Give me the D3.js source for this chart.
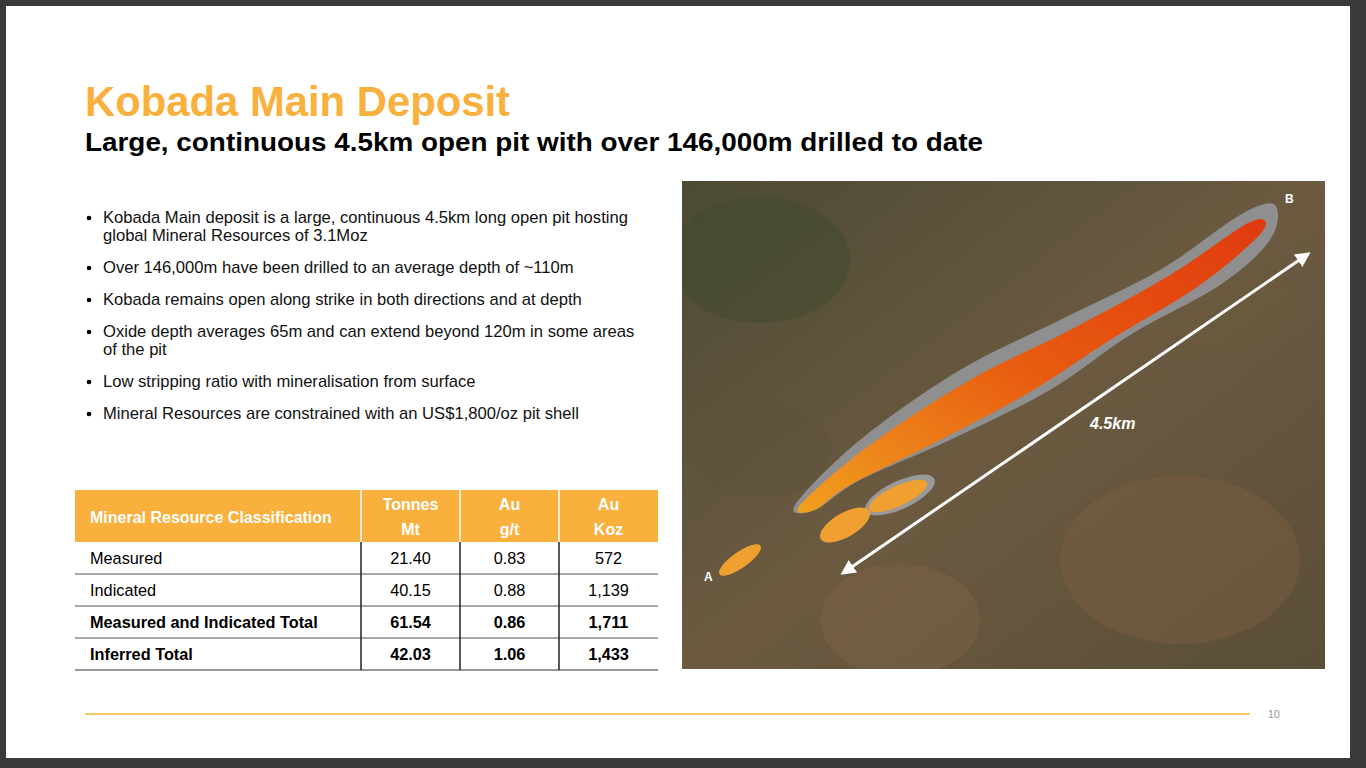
<!DOCTYPE html>
<html><head><meta charset="utf-8">
<script src="https://cdn.jsdelivr.net/npm/d3@7"></script>
<style>body{margin:0;background:#3a3a3a;font-family:Arial,"Liberation Sans",sans-serif}</style>
</head><body><svg id="s" width="1366" height="768"></svg>
<script>
// table data
const headers = [['Mineral Resource Classification'], ['Tonnes', 'Mt'], ['Au', 'g/t'], ['Au', 'Koz']];
const classes = ['Measured', 'Indicated', 'Measured and Indicated Total', 'Inferred Total'];
const tonnes = ['21.40', '40.15', '61.54', '42.03'];
const grade = ['0.83', '0.88', '0.86', '1.06'];
const ounces = ['572', '1,139', '1,711', '1,433'];
const boldRows = [false, false, true, true];
const bullets = [
  ['Kobada Main deposit is a large, continuous 4.5km long open pit hosting', 'global Mineral Resources of 3.1Moz'],
  ['Over 146,000m have been drilled to an average depth of ~110m'],
  ['Kobada remains open along strike in both directions and at depth'],
  ['Oxide depth averages 65m and can extend beyond 120m in some areas', 'of the pit'],
  ['Low stripping ratio with mineralisation from surface'],
  ['Mineral Resources are constrained with an US$1,800/oz pit shell']
];

const svg = d3.select('#s');
const orange = '#f9b03d';
svg.append('rect').attr('x', 6).attr('y', 6).attr('width', 1344).attr('height', 752).attr('fill', '#fff');

svg.append('text').attr('x', 85).attr('y', 116).attr('font-size', 41.8).attr('font-weight', 'bold')
  .attr('fill', orange).text('Kobada Main Deposit');
svg.append('text').attr('x', 85).attr('y', 151).attr('font-size', 25).attr('font-weight', 'bold')
  .attr('fill', '#000').attr('textLength', 898).attr('lengthAdjust', 'spacingAndGlyphs')
  .text('Large, continuous 4.5km open pit with over 146,000m drilled to date');

// bullets
let by = 223;
bullets.forEach((b) => {
  svg.append('circle').attr('cx', 89).attr('cy', by - 5).attr('r', 2.3).attr('fill', '#000');
  b.forEach((line, i) => {
    svg.append('text').attr('x', 103).attr('y', by + i * 18).attr('font-size', 16.6).attr('fill', '#111').text(line);
  });
  by += b.length * 18 + 14;
});

// table
const colEdges = [75, 361, 460, 559, 658];
const rowY = d3.scaleBand().domain(d3.range(classes.length)).range([542, 670]);
const g = svg.append('g');
g.append('rect').attr('x', 75).attr('y', 490).attr('width', 583).attr('height', 52).attr('fill', orange);
headers.forEach((h, c) => {
  if (c > 0) g.append('line').attr('x1', colEdges[c]).attr('x2', colEdges[c]).attr('y1', 490).attr('y2', 542)
    .attr('stroke', '#fff').attr('stroke-width', 1.5);
  h.forEach((t, i) => {
    const y = h.length === 1 ? 523 : 510 + i * 25;
    g.append('text').attr('x', c === 0 ? 90 : (colEdges[c] + colEdges[c + 1]) / 2).attr('y', y)
      .attr('text-anchor', c === 0 ? 'start' : 'middle').attr('font-size', 16).attr('font-weight', 'bold')
      .attr('fill', '#fff').text(t);
  });
});
classes.forEach((cl, r) => {
  const y0 = rowY(r), bw = rowY.bandwidth();
  const vals = [cl, tonnes[r], grade[r], ounces[r]];
  vals.forEach((v, c) => {
    g.append('text').attr('x', c === 0 ? 90 : (colEdges[c] + colEdges[c + 1]) / 2).attr('y', y0 + bw / 2 + 6)
      .attr('text-anchor', c === 0 ? 'start' : 'middle').attr('font-size', 16.3)
      .attr('font-weight', boldRows[r] ? 'bold' : 'normal').attr('fill', '#000').text(v);
  });
  g.append('line').attr('x1', 75).attr('x2', 658).attr('y1', y0 + bw).attr('y2', y0 + bw)
    .attr('stroke', r === classes.length - 1 ? '#333' : '#555').attr('stroke-width', 1.2);
});
colEdges.slice(1, 4).forEach((x) => {
  g.append('line').attr('x1', x).attr('x2', x).attr('y1', 542).attr('y2', 670).attr('stroke', '#222').attr('stroke-width', 1.5);
});

// aerial image approximation
const defs = svg.append('defs');
defs.append('clipPath').attr('id', 'clip').append('rect').attr('x', 682).attr('y', 181).attr('width', 643).attr('height', 488);
const img = svg.append('g').attr('clip-path', 'url(#clip)');
const bg = defs.append('linearGradient').attr('id', 'ground').attr('x1', '0%').attr('y1', '0%').attr('x2', '100%').attr('y2', '100%');
bg.append('stop').attr('offset', '0%').attr('stop-color', '#4c4a35');
bg.append('stop').attr('offset', '50%').attr('stop-color', '#6b5a40');
bg.append('stop').attr('offset', '100%').attr('stop-color', '#5a4e38');
const ore = defs.append('linearGradient').attr('id', 'ore').attr('x1', '0%').attr('y1', '100%').attr('x2', '100%').attr('y2', '0%');
ore.append('stop').attr('offset', '0%').attr('stop-color', '#f0a020');
ore.append('stop').attr('offset', '50%').attr('stop-color', '#e85a10');
ore.append('stop').attr('offset', '100%').attr('stop-color', '#e03a10');
img.append('rect').attr('x', 682).attr('y', 181).attr('width', 643).attr('height', 488).attr('fill', 'url(#ground)');
[[760, 260, 90, '#3f4a2c'], [1180, 560, 120, '#7a5d42'], [900, 620, 80, '#7d6146'], [1220, 300, 70, '#6a5a3c'], [760, 450, 70, '#5e5338']]
  .forEach(([cx, cy, r, c]) => img.append('ellipse').attr('cx', cx).attr('cy', cy).attr('rx', r).attr('ry', r * 0.7)
    .attr('fill', c).attr('opacity', 0.5));
const shell = [[795, 505], [860, 440], [960, 370], [1060, 320], [1160, 270], [1240, 215], [1275, 205], [1270, 240], [1220, 285], [1130, 335], [1050, 390], [950, 440], [860, 480], [815, 510]];
img.append('path').attr('d', d3.line().curve(d3.curveCardinalClosed)(shell)).attr('fill', '#8f8f8f');
const body = [[800, 505], [870, 445], [970, 380], [1070, 330], [1170, 275], [1250, 222], [1262, 232], [1200, 285], [1110, 340], [1030, 392], [940, 440], [850, 485], [815, 510]];
img.append('path').attr('d', d3.line().curve(d3.curveCardinalClosed)(body)).attr('fill', 'url(#ore)');
img.append('ellipse').attr('cx', 900).attr('cy', 495).attr('rx', 38).attr('ry', 14).attr('transform', 'rotate(-25 900 495)').attr('fill', '#999');
img.append('ellipse').attr('cx', 898).attr('cy', 496).attr('rx', 32).attr('ry', 10).attr('transform', 'rotate(-25 898 496)').attr('fill', '#f0a030');
img.append('ellipse').attr('cx', 845).attr('cy', 525).attr('rx', 28).attr('ry', 12).attr('transform', 'rotate(-30 845 525)').attr('fill', '#f0a030');
img.append('ellipse').attr('cx', 740).attr('cy', 560).attr('rx', 25).attr('ry', 8).attr('transform', 'rotate(-35 740 560)').attr('fill', '#f0a030');
// arrow
const arrow = defs.append('marker').attr('id', 'ah').attr('viewBox', '0 0 10 10').attr('refX', 8).attr('refY', 5)
  .attr('markerWidth', 5).attr('markerHeight', 5).attr('orient', 'auto-start-reverse');
arrow.append('path').attr('d', 'M0,0L10,5L0,10z').attr('fill', '#fff');
img.append('line').attr('x1', 843).attr('y1', 573).attr('x2', 1308).attr('y2', 254).attr('stroke', '#fff').attr('stroke-width', 3)
  .attr('marker-start', 'url(#ah)').attr('marker-end', 'url(#ah)');
img.append('text').attr('x', 1090).attr('y', 429).attr('font-size', 16).attr('font-weight', 'bold').attr('font-style', 'italic')
  .attr('fill', '#fff').text('4.5km');
img.append('text').attr('x', 1285).attr('y', 203).attr('font-size', 12).attr('font-weight', 'bold').attr('fill', '#fff').text('B');
img.append('text').attr('x', 704).attr('y', 581).attr('font-size', 12).attr('font-weight', 'bold').attr('fill', '#fff').text('A');

// footer
svg.append('line').attr('x1', 85).attr('x2', 1250).attr('y1', 714).attr('y2', 714).attr('stroke', orange).attr('stroke-width', 1.3);
svg.append('text').attr('x', 1280).attr('y', 718).attr('font-size', 11).attr('fill', '#999').attr('text-anchor', 'end').text('10');
</script></body></html>
